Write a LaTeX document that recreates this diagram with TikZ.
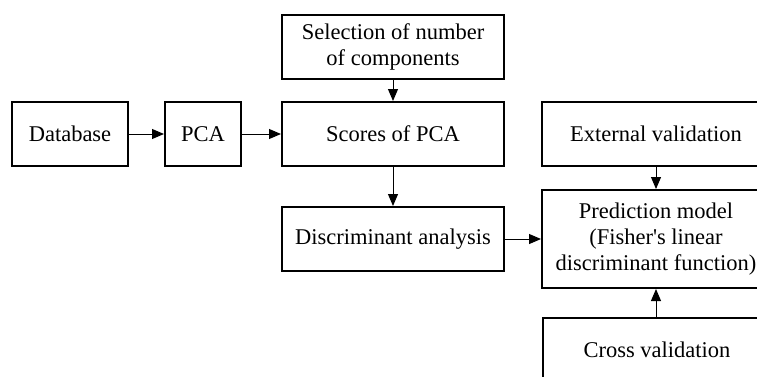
\documentclass[tikz,border=0pt]{standalone}
\usepackage{fontspec}
\setmainfont{Liberation Serif}
\usepackage{tikz}
\usetikzlibrary{arrows.meta, positioning}

\tikzset{
    stagebox/.style={draw=black, line width=2pt, fill=white, align=center,
        font=\fontsize{22.5}{26}\selectfont, inner sep=2pt},
    flowarrow/.style={-{Triangle[length=12pt, width=10pt]}, line width=1pt}
}

\begin{document}
\begin{tikzpicture}[x=1pt, y=-1pt]
    \useasboundingbox (0,0) rectangle (757,376);
    \clip (0,0) rectangle (757,376);

    % Input chain
    \node[stagebox, minimum width=116pt, minimum height=64pt] (database) at (70,134) {Database};
    \node[stagebox, minimum width=76pt, minimum height=64pt] (pca) at (203,134) {PCA};

    % Middle column
    \node[stagebox, minimum width=222pt, minimum height=64pt] (selection) at (393,47)
        {Selection of number\\of components};
    \node[stagebox, minimum width=222pt, minimum height=64pt] (scores) at (393,134) {Scores of PCA};
    \node[stagebox, minimum width=222pt, minimum height=64pt] (discrim) at (393,239) {Discriminant analysis};

    % Right column
    \node[stagebox, minimum width=228pt, minimum height=64pt] (external) at (656,134) {External validation};
    \node[stagebox, minimum width=228pt, minimum height=98pt] (model) at (656,239)
        {Prediction model\\(Fisher\textquotesingle s linear\\discriminant function)};
    \node[stagebox, minimum width=228pt, minimum height=64pt] (crossval) at (657,350) {Cross validation};

    % Arrows
    \draw[flowarrow] (database) -- (pca);
    \draw[flowarrow] (pca) -- (scores);
    \draw[flowarrow] (selection) -- (scores);
    \draw[flowarrow] (scores) -- (discrim);
    \draw[flowarrow] (discrim) -- (discrim -| model.west);
    \draw[flowarrow] (external) -- (model);
    \draw[flowarrow] (crossval.north -| model.south) -- (model.south);
\end{tikzpicture}
\end{document}
